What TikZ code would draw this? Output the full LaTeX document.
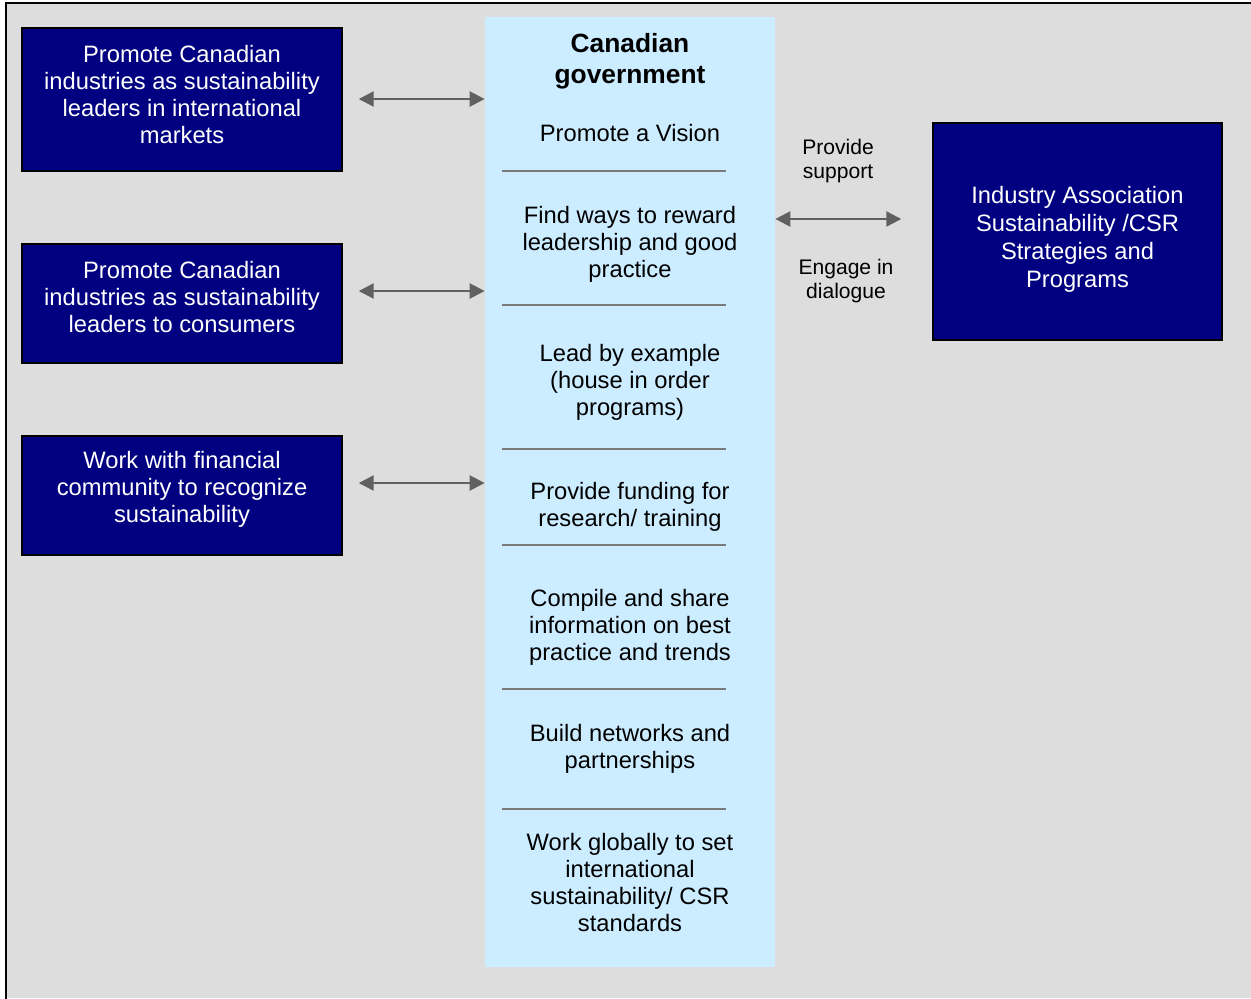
\documentclass[tikz,border=0pt]{standalone}
\usepackage{fontspec}
\setmainfont{Liberation Sans}
\usetikzlibrary{arrows.meta}
\definecolor{navy}{HTML}{000080}
\definecolor{colblue}{HTML}{CCECFF}
\definecolor{bggray}{HTML}{DDDDDD}
\definecolor{arrgray}{HTML}{606060}
\definecolor{sepgray}{HTML}{7A7A7A}
\tikzset{
  darkbox/.style={draw=black, line width=0.03cm, fill=navy, inner sep=0pt},
  boxtext/.style={text=white, align=center, inner sep=0pt, font=\fontsize{13.5}{15.4}\selectfont},
  coltext/.style={text=black, align=center, inner sep=0pt, font=\fontsize{13.5}{15.4}\selectfont},
  smalltext/.style={text=black, align=center, inner sep=0pt, font=\fontsize{12}{13.7}\selectfont},
  biarrow/.style={draw=arrgray, line width=0.045cm, {Triangle[length=0.3cm,width=0.3cm]}-{Triangle[length=0.3cm,width=0.3cm]}},
  sepline/.style={draw=sepgray, line width=0.035cm}
}
\begin{document}
\begin{tikzpicture}[x=0.02cm,y=-0.02cm]
\useasboundingbox (0,0) rectangle (1251,998);
\fill[white] (0,0) rectangle (1251,998);
\fill[bggray] (6,3) rectangle (1251,998);
\draw[black, line width=0.05cm] (6,999) -- (6,3) -- (1252,3);

% central column
\node[fill=colblue, minimum width=5.8cm, minimum height=19cm, inner sep=0pt] (col) at (630,492) {};

% left boxes
\node[darkbox, minimum width=6.4cm, minimum height=2.86cm] (b1) at (182,99.5) {};
\node[darkbox, minimum width=6.4cm, minimum height=2.38cm] (b2) at (182,303.5) {};
\node[darkbox, minimum width=6.4cm, minimum height=2.38cm] (b3) at (182,495.5) {};
\node[boxtext] (b1t) at (182,94.5) {Promote Canadian\\industries as sustainability\\leaders in international\\markets};
\node[boxtext] (b2t) at (182,297) {Promote Canadian\\industries as sustainability\\leaders to consumers};
\node[boxtext] (b3t) at (182,489.5) {Work with financial\\community to recognize\\sustainability};

% right box
\node[darkbox, minimum width=5.78cm, minimum height=4.34cm] (rb) at (1077.5,231.5) {};
\node[boxtext, font=\fontsize{13.5}{16}\selectfont] (rbt) at (1077.5,239.5) {Industry Association\\Sustainability /CSR\\Strategies and\\Programs};

% column texts
\node[coltext, font=\fontsize{15}{17.6}\selectfont\bfseries] (title) at (630,61.5) {Canadian\\government};
\node[coltext] (c1) at (630,133.5) {Promote a Vision};
\node[coltext] (c2) at (630,244) {Find ways to reward\\leadership and good\\practice};
\node[coltext] (c3) at (630,382) {Lead by example\\(house in order\\programs)};
\node[coltext] (c4) at (630,506.5) {Provide funding for\\research/ training};
\node[coltext] (c5) at (630,627) {Compile and share\\information on best\\practice and trends};
\node[coltext] (c6) at (630,748.5) {Build networks and\\partnerships};
\node[coltext] (c7) at (630,882.5) {Work globally to set\\international\\sustainability/ CSR\\standards};

% separators
\foreach \yy in {171,305,449,545,689,809} {
  \draw[sepline] (502,\yy) -- (726,\yy);
}

% left arrows
\coordinate (a1) at ([shift={(16,-0.5)}]b1.east);
\coordinate (a2) at ([shift={(16,-12.5)}]b2.east);
\coordinate (a3) at ([shift={(16,-12.5)}]b3.east);
\draw[biarrow] (a1) -- (a1 -| col.west);
\draw[biarrow] (a2) -- (a2 -| col.west);
\draw[biarrow] (a3) -- (a3 -| col.west);

% right arrow
\coordinate (ra) at ([shift={(-31,-12.5)}]rb.west);
\draw[biarrow] (ra -| col.east) -- (ra);

% right labels
\node[smalltext] (ps) at (838,161) {Provide\\support};
\node[smalltext] (ed) at (846,281) {Engage in\\dialogue};
\end{tikzpicture}
\end{document}
